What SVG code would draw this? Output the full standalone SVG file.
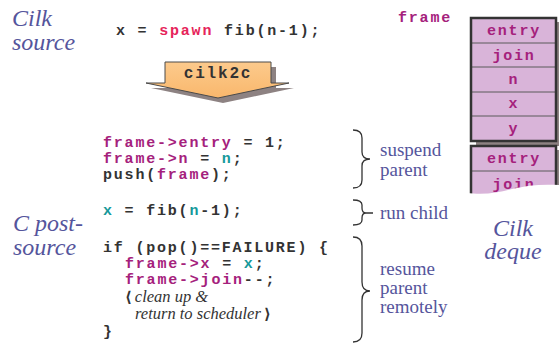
<svg xmlns="http://www.w3.org/2000/svg" width="559" height="343" viewBox="0 0 559 343">
  <style>
    .lbl { font-family: "Liberation Serif", "Times New Roman", serif; fill: #55559c; }
    .big { font-size: 24px; font-style: italic; }
    .note { font-size: 19px; }
    .code { font-family: "Liberation Mono", "Courier New", monospace; font-weight: bold; font-size: 15px; letter-spacing: 1.8px; fill: #333333; }
    .mg { fill: #a5217c; }
    .tl { fill: #16999a; }
    .sp { fill: #e6245a; }
    .cmt { font-family: "Liberation Serif", "Times New Roman", serif; font-style: italic; font-size: 16.5px; fill: #333333; }
    .brk { font-family: "DejaVu Sans", sans-serif; font-weight: bold; font-size: 15px; fill: #333333; }
    .brace { fill: none; stroke: #333333; stroke-width: 1.3; }
    .cell { fill: #d9b4d9; }
    .frameBox { fill: none; stroke: #333333; stroke-width: 2.5; }
    .div { stroke: #5a5a5a; stroke-width: 1; }
    .shadow { fill: #8d8282; }
    .fld { font-family: "Liberation Mono", "Courier New", monospace; font-weight: bold; font-size: 15px; letter-spacing: 1.8px; fill: #a5217c; text-anchor: middle; }
  </style>
  <defs>
    <linearGradient id="arrowFill" x1="0" y1="0" x2="0" y2="1">
      <stop offset="0" stop-color="#fcca8c"/>
      <stop offset="1" stop-color="#f9b76c"/>
    </linearGradient>
  </defs>

  <!-- side labels -->
  <g id="label-cilk-source">
    <text class="lbl big" x="12" y="26">Cilk</text>
    <text class="lbl big" x="12" y="50">source</text>
  </g>
  <g id="label-c-postsource">
    <text class="lbl big" x="13" y="231">C post-</text>
    <text class="lbl big" x="13" y="255">source</text>
  </g>
  <g id="label-cilk-deque">
    <text class="lbl big" x="513" y="236" text-anchor="middle">Cilk</text>
    <text class="lbl big" x="513" y="259" text-anchor="middle">deque</text>
  </g>

  <!-- Cilk source line -->
  <g id="cilk-code">
    <text class="code" x="116" y="35">x = <tspan class="sp">spawn</tspan> fib(n-1);</text>
  </g>

  <!-- translation arrow -->
  <g id="cilk2c-arrow">
    <polygon class="shadow" points="170,67 276,67 276,88 294,88 223,103 151,88 170,88"/>
    <polygon points="165,62 271,62 271,83 289,83 218,98 146,83 165,83" fill="url(#arrowFill)" stroke="#4a4a4a" stroke-width="1"/>
    <text class="code" x="218" y="78" text-anchor="middle" style="font-size:16px">cilk2c</text>
  </g>

  <!-- C post-source code -->
  <g id="suspend-code">
    <text class="code" x="103" y="147"><tspan class="mg">frame-&gt;entry</tspan> = 1;</text>
    <text class="code" x="103" y="163"><tspan class="mg">frame-&gt;n</tspan> = <tspan class="tl">n</tspan>;</text>
    <text class="code" x="103" y="179">push(<tspan class="mg">frame</tspan>);</text>
  </g>
  <g id="child-code">
    <text class="code" x="103" y="215"><tspan class="tl">x</tspan> = fib(<tspan class="tl">n</tspan>-1);</text>
  </g>
  <g id="resume-code">
    <text class="code" x="103" y="252">if (pop()==FAILURE) {</text>
    <text class="code" x="125" y="268"><tspan class="mg">frame-&gt;x</tspan> = <tspan class="tl">x</tspan>;</text>
    <text class="code" x="125" y="284"><tspan class="mg">frame-&gt;join</tspan>--;</text>
    <text x="125" y="302"><tspan class="brk">⟨</tspan><tspan class="cmt" dx="3">clean up &amp;</tspan></text>
    <text x="135" y="319"><tspan class="cmt">return to scheduler</tspan><tspan class="brk" dx="3">⟩</tspan></text>
    <text class="code" x="103" y="336">}</text>
  </g>

  <!-- braces and their notes -->
  <g id="connectors">
    <path class="brace" d="M353,130 Q362,130 362,138 L362,152 Q362,159 370,159 Q362,159 362,166 L362,180 Q362,188 353,188"/>
    <path class="brace" d="M353,200 Q362,200 362,205 L362,208 Q362,213 366,213 L373,213 M366,213 Q362,213 362,218 L362,220 Q362,225 353,225"/>
    <path class="brace" d="M353,237 Q362,237 362,246 L362,282 Q362,291 370,291 Q362,291 362,300 L362,333 Q362,342 353,342"/>
  </g>
  <g id="note-suspend">
    <text class="lbl note" x="380" y="156">suspend</text>
    <text class="lbl note" x="380" y="176">parent</text>
  </g>
  <g id="note-run">
    <text class="lbl note" x="380" y="219">run child</text>
  </g>
  <g id="note-resume">
    <text class="lbl note" x="380" y="275">resume</text>
    <text class="lbl note" x="380" y="294">parent</text>
    <text class="lbl note" x="380" y="313">remotely</text>
  </g>

  <!-- deque frames -->
  <g id="frame-label">
    <text class="fld" x="425" y="22">frame</text>
  </g>
  <g id="frame-top">
    <rect class="shadow" x="476" y="22" width="86" height="124"/>
    <rect class="cell" x="471" y="18" width="85" height="123"/>
    <line class="div" x1="471" y1="43" x2="556" y2="43"/>
    <line class="div" x1="471" y1="67" x2="556" y2="67"/>
    <line class="div" x1="471" y1="92" x2="556" y2="92"/>
    <line class="div" x1="471" y1="116" x2="556" y2="116"/>
    <rect class="frameBox" x="471" y="18" width="85" height="123"/>
    <text class="fld" x="514" y="35">entry</text>
    <text class="fld" x="514" y="60">join</text>
    <text class="fld" x="514" y="84">n</text>
    <text class="fld" x="514" y="108">x</text>
    <text class="fld" x="514" y="133">y</text>
  </g>
  <g id="frame-next">
    <rect class="shadow" x="476" y="150" width="86" height="50"/>
    <rect class="cell" x="471" y="146" width="85" height="54"/>
    <line class="div" x1="471" y1="171" x2="556" y2="171"/>
    <path class="frameBox" d="M471,200 L471,146 L556,146 L556,200"/>
    <text class="fld" x="514" y="163">entry</text>
    <text class="fld" x="514" y="189">join</text>
    <!-- torn lower edge -->
    <path d="M466,193 C485,195 498,193 512,189 C527,185 543,184 559,185 L559,210 L466,210 Z" fill="#ffffff"/>
  </g>
</svg>
